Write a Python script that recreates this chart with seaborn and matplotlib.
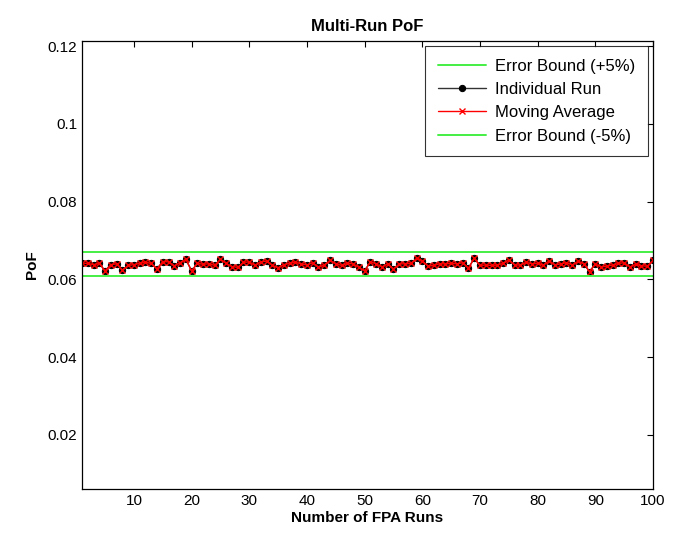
import matplotlib
matplotlib.use("Agg")
import matplotlib.pyplot as plt
import seaborn as sns
import pandas as pd
import numpy as np

runs = list(range(1, 101))
individual_run = [
    0.0642, 0.0641, 0.0638, 0.0641, 0.0622, 0.0638, 0.0640, 0.0624, 0.0636, 0.0638,
    0.0641, 0.0644, 0.0641, 0.0627, 0.0646, 0.0645, 0.0635, 0.0643, 0.0652, 0.0622,
    0.0641, 0.0639, 0.0640, 0.0636, 0.0652, 0.0641, 0.0633, 0.0631, 0.0644, 0.0645,
    0.0636, 0.0645, 0.0647, 0.0636, 0.0630, 0.0638, 0.0641, 0.0644, 0.0640, 0.0637,
    0.0643, 0.0631, 0.0637, 0.0649, 0.0640, 0.0636, 0.0641, 0.0640, 0.0631, 0.0622,
    0.0645, 0.0640, 0.0632, 0.0640, 0.0627, 0.0640, 0.0640, 0.0641, 0.0654, 0.0648,
    0.0634, 0.0636, 0.0640, 0.0640, 0.0641, 0.0640, 0.0643, 0.0629, 0.0654, 0.0636,
    0.0637, 0.0636, 0.0637, 0.0641, 0.0650, 0.0637, 0.0637, 0.0644, 0.0640, 0.0641,
    0.0637, 0.0648, 0.0637, 0.0640, 0.0643, 0.0637, 0.0647, 0.0640, 0.0620, 0.0640,
    0.0632, 0.0634, 0.0637, 0.0641, 0.0643, 0.0632, 0.0639, 0.0635, 0.0634, 0.0649,
]
moving_average = list(individual_run)
upper_bound = 0.0671
lower_bound = 0.0608

df = pd.DataFrame({"run": runs, "ind": individual_run, "mavg": moving_average})
df["up"] = upper_bound
df["low"] = lower_bound

sns.set_style("white")
plt.rcParams["font.family"] = ["Liberation Sans", "DejaVu Sans"]
plt.rcParams["text.color"] = "black"
plt.rcParams["axes.labelcolor"] = "black"

fig = plt.figure(figsize=(6.85, 5.37), dpi=100)
ax = fig.add_axes([0.1197, 0.0894, 0.8336, 0.8342])

green = "#44ee44"
sns.lineplot(data=df, x="run", y="up", ax=ax, color=green, lw=1.4, label="Error Bound (+5%)")
sns.lineplot(data=df, x="run", y="ind", ax=ax, color="#333333", lw=1.0, marker="o",
             markersize=4.5, markerfacecolor="black", markeredgecolor="black", label="Individual Run")
sns.lineplot(data=df, x="run", y="mavg", ax=ax, color="red", lw=1.0, marker="x",
             markersize=4.5, markeredgecolor="red", markeredgewidth=1.0, label="Moving Average")
sns.lineplot(data=df, x="run", y="low", ax=ax, color=green, lw=1.4, label="Error Bound (-5%)")

ax.set_xlim(1, 100)
ax.set_ylim(0.0061, 0.1213)
ax.set_xticks([10, 20, 30, 40, 50, 60, 70, 80, 90, 100])
ax.set_yticks([0.02, 0.04, 0.06, 0.08, 0.1, 0.12])
ax.set_yticklabels(["0.02", "0.04", "0.06", "0.08", "0.1", "0.12"])
ax.tick_params(direction="in", top=True, right=True, length=4, width=0.8, labelsize=11,
               colors="black")
for s in ax.spines.values():
    s.set_visible(True)
    s.set_color("black")
    s.set_linewidth(0.9)

ax.set_title("Multi-Run PoF", fontsize=12, fontweight="bold", pad=7, color="black")
ax.set_xlabel("Number of FPA Runs", fontsize=11, fontweight="bold", labelpad=2)
ax.set_ylabel("PoF", fontsize=11, fontweight="bold", labelpad=6)

leg = ax.legend(loc="upper right", fontsize=12, frameon=True, fancybox=False,
                edgecolor="black", borderaxespad=0.3, handlelength=2.9,
                handletextpad=0.55, labelspacing=0.5, borderpad=0.75)
leg.get_frame().set_linewidth(0.8)
for t in leg.get_texts():
    t.set_color("black")

fig.savefig("out.png", dpi=100, facecolor="white")
